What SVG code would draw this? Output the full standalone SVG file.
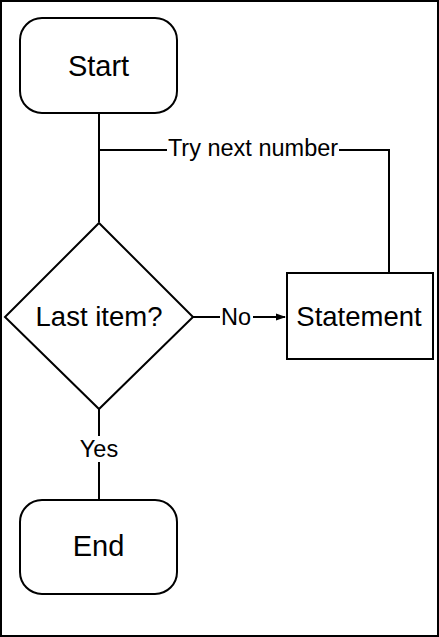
<svg xmlns="http://www.w3.org/2000/svg" width="439" height="637" viewBox="0 0 439 637">
<defs>
<style>
.node{fill:#fff;stroke:#000;stroke-width:2}
.edge{fill:none;stroke:#000;stroke-width:2}
.t{font-family:"Liberation Sans",Arial,sans-serif;font-size:27.5px;fill:#000;text-anchor:middle}
.tb{font-size:29px}
.l{font-family:"Liberation Sans",Arial,sans-serif;font-size:23.5px;fill:#000;text-anchor:middle}
.bg{fill:#fff}
</style>
<marker id="arr" markerWidth="10" markerHeight="8" refX="9" refY="4" orient="auto" markerUnits="userSpaceOnUse">
<path d="M0,0.5 L10,4 L0,7.5 z" fill="#000"/>
</marker>
</defs>
<rect x="0" y="0" width="439" height="637" fill="#fff"/>
<rect x="1" y="1" width="437" height="635" fill="none" stroke="#000" stroke-width="2"/>
<g id="connectors">
<path class="edge" d="M99,113 V222"/>
<path class="edge" d="M389,272 V150 H99"/>
<path class="edge" d="M193,317 H285" marker-end="url(#arr)"/>
<path class="edge" d="M99,409 V499"/>
<rect class="bg" x="167" y="138" width="172" height="22"/>
<text class="l" x="253" y="156">Try next number</text>
<rect class="bg" x="220" y="305" width="33" height="24"/>
<text class="l" x="236" y="325">No</text>
<rect class="bg" x="78" y="436" width="42" height="26"/>
<text class="l" x="99" y="457">Yes</text>
</g>
<g id="start">
<rect class="node" x="20" y="18" width="157" height="95" rx="22" ry="22"/>
<text class="t tb" x="98.5" y="76">Start</text>
</g>
<g id="decision">
<polygon class="node" points="99,223 193,317 99,409 5,317"/>
<text class="t" x="99" y="326">Last item?</text>
</g>
<g id="statement">
<rect class="node" x="287" y="273" width="146" height="86"/>
<text class="t" x="359" y="326">Statement</text>
</g>
<g id="end">
<rect class="node" x="20" y="500" width="157" height="94" rx="22" ry="22"/>
<text class="t tb" x="98.5" y="556">End</text>
</g>
</svg>
